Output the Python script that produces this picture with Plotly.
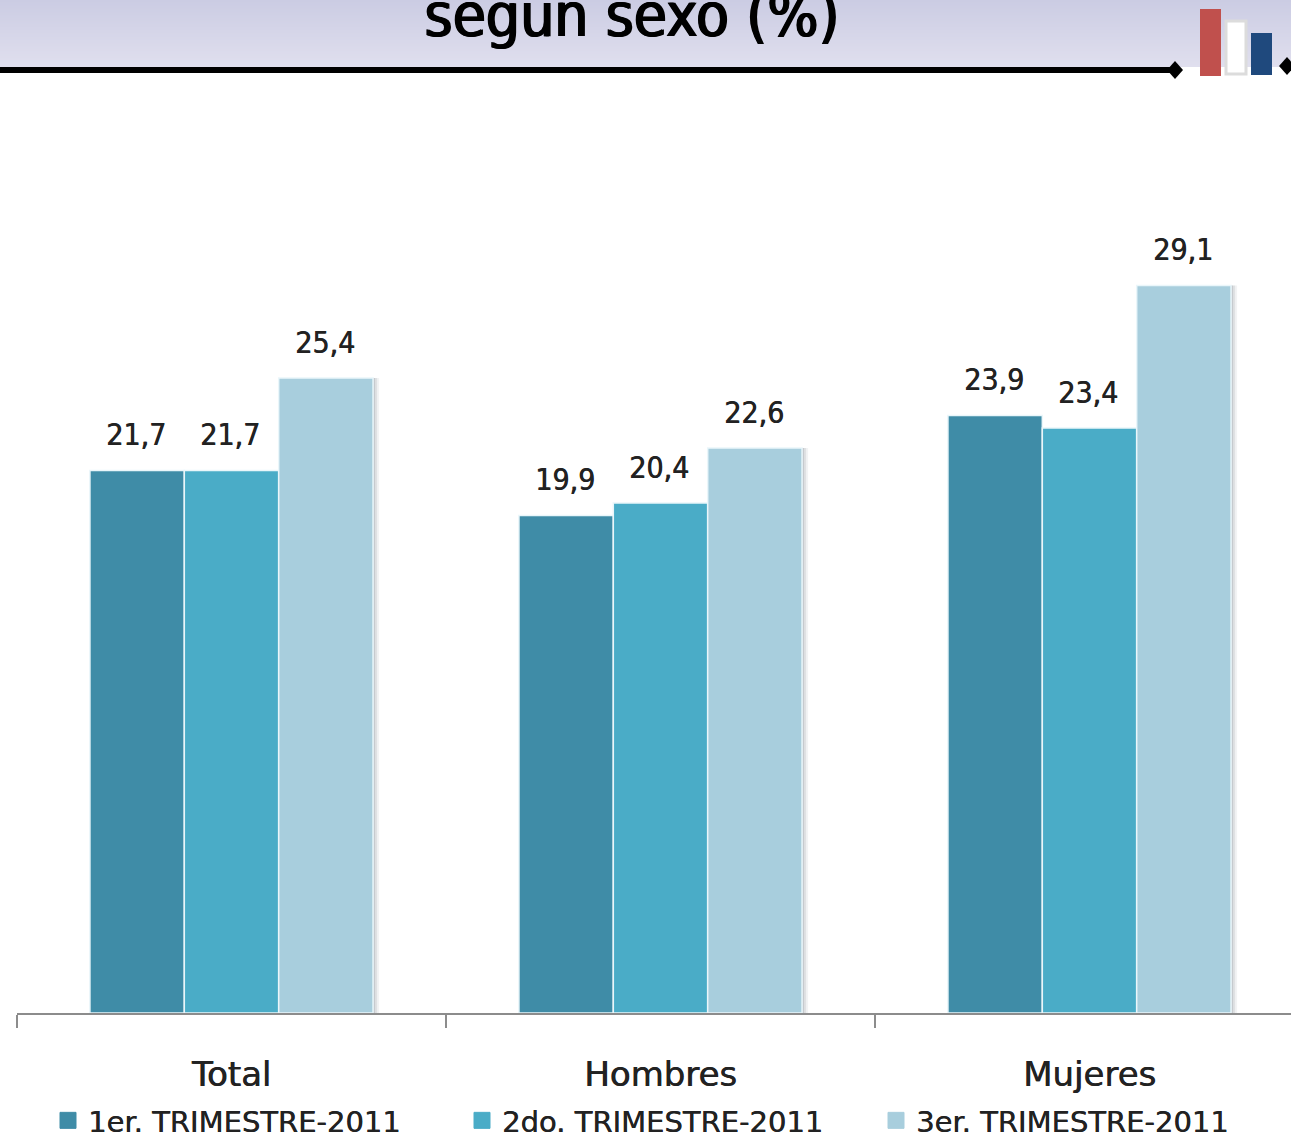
import plotly.graph_objects as go

W, H = 1291, 1137

categories = ["Total", "Hombres", "Mujeres"]
series_names = ["1er. TRIMESTRE-2011", "2do. TRIMESTRE-2011", "3er. TRIMESTRE-2011"]
series_colors = ["#3F8CA7", "#4AACC7", "#A8CEDD"]
values_q1 = [21.7, 19.9, 23.9]
values_q2 = [21.7, 20.4, 23.4]
values_q3 = [25.4, 22.6, 29.1]
series_values = [values_q1, values_q2, values_q3]

BAR_GAP = 0.34
HEADER_TOP = (203, 204, 227)
HEADER_BOTTOM = (224, 223, 238)
LABEL_FONT = "DejaVu Sans Condensed, Liberation Sans"
STEP_PX = 429


def px(x):
    return x / W


def py(y):
    return 1 - y / H


def rect(x0, y0, x1, y1, fill, line=None, line_width=0):
    return dict(
        type="rect", xref="paper", yref="paper", layer="above",
        x0=px(x0), x1=px(x1), y0=py(y0), y1=py(y1),
        fillcolor=fill, line=dict(color=line or fill, width=line_width),
    )


def diamond(cx, cy, rx, ry):
    path = (
        f"M {px(cx - rx)} {py(cy)} L {px(cx)} {py(cy - ry)} "
        f"L {px(cx + rx)} {py(cy)} L {px(cx)} {py(cy + ry)} Z"
    )
    return dict(type="path", xref="paper", yref="paper", layer="above", path=path,
                fillcolor="#000000", line=dict(width=0))


fig = go.Figure()

bar_w = (1 - BAR_GAP) / 3

# soft shadow on the right of the lightest bars
for extra, alpha in [(6, 0.08), (4, 0.12), (2, 0.18)]:
    fig.add_trace(go.Bar(
        x=categories, y=values_q3, showlegend=False,
        width=bar_w + extra / STEP_PX, offset=0.5 * bar_w,
        marker=dict(color=f"rgba(90,100,110,{alpha})", line=dict(width=0)),
    ))

for j, (name, vals, color) in enumerate(zip(series_names, series_values, series_colors)):
    fig.add_trace(go.Bar(
        x=categories, y=vals, name=name, showlegend=False,
        width=bar_w, offset=(j - 1.5) * bar_w,
        marker=dict(color=color, line=dict(color="#EAF6FA", width=1.5)),
    ))

# legend entries, bar swatches in plotly are too small
for name, color in zip(series_names, series_colors):
    fig.add_trace(go.Scatter(
        x=[None], y=[None], mode="markers", name=name,
        marker=dict(symbol="square", size=18, color=color, line=dict(color=color, width=1)),
    ))

# value labels sit well above the bars
annotations = []
for j, vals in enumerate(series_values):
    for i, v in enumerate(vals):
        annotations.append(dict(
            x=i + (j - 1) * bar_w - 0.003, y=v, xref="x", yref="y",
            text=f"{v:.1f}".replace(".", ","), showarrow=False, yshift=36,
            font=dict(family=LABEL_FONT, size=30, color="#222222",
                      shadow="0.7px 0 0 #222222"),
        ))

annotations.append(dict(
    x=px(631), y=py(15), xref="paper", yref="paper", text="según sexo (%)",
    showarrow=False, yanchor="middle",
    font=dict(family=LABEL_FONT, size=60, color="#000000",
              shadow="1.5px 0 0 #000000, -0.5px 0 0 #000000"),
))

# header band, drawn in strips for the gradient
shapes = []
band_h = 67
for k in range(band_h):
    t = k / (band_h - 1)
    c = [round(a + (b - a) * t) for a, b in zip(HEADER_TOP, HEADER_BOTTOM)]
    s = rect(0, k, W, k + 2 if k < band_h - 1 else k + 1, f"rgb({c[0]},{c[1]},{c[2]})")
    s["layer"] = "below"
    shapes.append(s)
shapes += [
    rect(0, 67, 1172, 73, "#000000"),
    diamond(1175, 70, 8, 9),
    rect(1200, 9, 1221, 76, "#C0504D"),
    rect(1226, 21, 1246, 74, "#FFFFFF", "#DCDCDC", 3),
    rect(1251, 33, 1272, 75, "#1F497D"),
    diamond(1287, 66, 8, 9),
]

fig.update_layout(
    width=W, height=H,
    margin=dict(l=0, r=0, t=0, b=0, autoexpand=False),
    paper_bgcolor="#FFFFFF",
    plot_bgcolor="rgba(0,0,0,0)",
    barmode="overlay",
    shapes=shapes,
    annotations=annotations,
    hovermode=False,
    font=dict(family="DejaVu Sans", color="#222222"),
    legend=dict(
        orientation="h", x=px(48), y=py(1095), xanchor="left", yanchor="top",
        font=dict(family="DejaVu Sans", size=29, color="#222222",
                  shadow="0.4px 0 0 #222222"),
        entrywidth=369, entrywidthmode="pixels",
        itemsizing="trace", bgcolor="rgba(0,0,0,0)",
    ),
    xaxis=dict(
        domain=[px(17), 1],
        range=[-0.5, (W - 17) / STEP_PX - 0.5],
        type="category",
        tickson="boundaries",
        ticks="outside", ticklen=13, tickwidth=2, tickcolor="#8C8C8C",
        showline=True, linecolor="#8C8C8C", linewidth=2,
        showgrid=False,
        ticklabelstandoff=30,
        tickfont=dict(family="DejaVu Sans", size=34, color="#222222",
                      shadow="0.6px 0 0 #222222"),
    ),
    yaxis=dict(
        domain=[py(1013), 1],
        range=[0, 1013 / 25],
        visible=False,
        showgrid=False,
    ),
)

fig.write_html("out.html", config={"displayModeBar": False},
               post_script="document.body.style.margin = '0';")
